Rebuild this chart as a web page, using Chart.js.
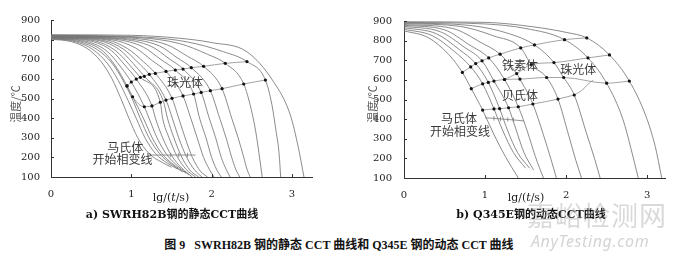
<!DOCTYPE html>
<html>
<head>
<meta charset="utf-8">
<script src="https://cdn.jsdelivr.net/npm/chart.js@4.4.1/dist/chart.umd.min.js"></script>
<style>
  body { margin: 0; background: #fff; width: 680px; height: 258px; position: relative; overflow: hidden; }
  canvas { position: absolute; top: 0; }
  #cl { left: 0; }
  #cr { left: 340px; }
  .xt { position: absolute; top: 191px; font-family: "DejaVu Serif", serif; font-size: 11px; line-height: 14px; color: #222; transform: translateX(-50%); white-space: nowrap; }
  .cap { position: absolute; top: 208px; font-family: "DejaVu Serif", "Noto Sans CJK SC", serif; font-weight: bold; font-size: 11px; line-height: 14px; color: #111; transform: translateX(-50%); white-space: nowrap; }
  #fig { position: absolute; top: 238px; left: 339px; transform: translateX(-50%); font-family: "Liberation Serif", "Noto Sans CJK SC", serif; font-weight: bold; font-size: 12px; line-height: 15px; color: #111; white-space: nowrap; }
  .wm1 { position: absolute; left: 527px; top: 199px; font-family: "Noto Sans CJK SC"; font-size: 27px; line-height: 32px; color: rgba(170,170,170,0.45); letter-spacing: 1px; }
  .wm2 { position: absolute; left: 531px; top: 231px; font-family: "Noto Sans"; font-style: italic; font-size: 16px; line-height: 20px; color: rgba(170,170,170,0.5); letter-spacing: 0.6px; }
</style>
</head>
<body>
<canvas id="cl" width="340" height="200"></canvas>
<canvas id="cr" width="340" height="200"></canvas>
<div class="xt" style="left:171px">lg/(<i>t</i>/s)</div>
<div class="xt" style="left:526px">lg/(<i>t</i>/s)</div>
<div class="cap" style="left:172px">a) SWRH82B钢的静态CCT曲线</div>
<div class="cap" style="left:531px">b) Q345E钢的动态CCT曲线</div>
<div id="fig">图 9&nbsp;&nbsp;&nbsp;SWRH82B 钢的静态 CCT 曲线和 Q345E 钢的动态 CCT 曲线</div>
<div class="wm1">嘉峪检测网</div>
<div class="wm2">AnyTesting.com</div>
<script>
const xTickValues = [0, 1, 2, 3];
const yTickValues = [100, 200, 300, 400, 500, 600, 700, 800, 900];

// a) SWRH82B static CCT: cooling curves [lg(t/s), T]
const leftMartensiteCurves = [
  [[0,802],[0.25,790],[0.45,755],[0.62,690],[0.76,600],[0.87,500],[0.97,400],[1.08,300],[1.22,220],[1.38,175],[1.5,150]],
  [[0,805],[0.3,790],[0.52,750],[0.7,680],[0.84,590],[0.96,490],[1.06,400],[1.17,300],[1.3,220],[1.45,170],[1.58,140]],
  [[0,807],[0.35,790],[0.58,748],[0.76,680],[0.9,590],[1.02,490],[1.11,400],[1.22,300],[1.35,220],[1.5,165],[1.64,125]]
];
const leftPearliteCurves = [
  [[0,808],[0.4,790],[0.65,740],[0.82,655],[0.946,564],[1.016,509],[1.15,400],[1.26,300],[1.38,220],[1.52,165],[1.68,120]],
  [[0,810],[0.45,790],[0.7,740],[0.87,660],[1.0,584],[1.162,458],[1.22,400],[1.32,300],[1.44,215],[1.58,155],[1.72,110]],
  [[0,811],[0.5,792],[0.75,745],[0.92,670],[1.062,599],[1.257,462],[1.30,400],[1.39,300],[1.5,210],[1.63,145],[1.76,100]],
  [[0,812],[0.55,793],[0.8,745],[0.97,675],[1.112,608],[1.361,481],[1.39,400],[1.47,300],[1.57,205],[1.68,140],[1.80,100]],
  [[0,813],[0.6,795],[0.85,750],[1.02,680],[1.162,613],[1.40,486],[1.45,400],[1.53,300],[1.63,200],[1.73,135],[1.84,100]],
  [[0,814],[0.65,796],[0.9,752],[1.08,685],[1.224,623],[1.432,492],[1.51,400],[1.59,300],[1.69,200],[1.79,135],[1.88,100]],
  [[0,815],[0.7,798],[0.95,755],[1.15,688],[1.299,628],[1.507,501],[1.59,400],[1.67,300],[1.76,200],[1.86,130],[1.95,100]],
  [[0,816],[0.75,800],[1.05,758],[1.26,693],[1.432,638],[1.644,513],[1.74,400],[1.82,300],[1.9,200],[1.97,140],[2.03,100]],
  [[0,817],[0.8,802],[1.15,762],[1.37,698],[1.548,645],[1.776,523],[1.85,400],[1.93,300],[2.0,200],[2.06,140],[2.12,100]],
  [[0,818],[0.85,804],[1.25,765],[1.47,703],[1.644,650],[1.87,531],[1.97,400],[2.05,300],[2.12,200],[2.18,140],[2.23,100]],
  [[0,819],[0.9,806],[1.35,768],[1.57,708],[1.747,657],[1.984,540],[2.1,400],[2.18,300],[2.25,200],[2.3,140],[2.35,100]],
  [[0,820],[1.0,808],[1.45,773],[1.7,715],[1.90,664],[2.13,550],[2.25,400],[2.33,300],[2.4,200],[2.44,140],[2.48,100]],
  [[0,821],[1.1,810],[1.6,780],[1.95,725],[2.17,679],[2.40,574],[2.49,450],[2.55,330],[2.59,220],[2.63,100]],
  [[0,822],[1.2,812],[1.7,788],[2.15,738],[2.44,688],[2.67,594],[2.75,470],[2.8,340],[2.84,220],[2.86,100]],
  [[0,825],[1.0,822],[1.6,807],[2.0,785],[2.44,738],[2.77,586],[2.98,416],[3.08,250],[3.15,100]]
];
const leftPearliteStart = [[0.946,564],[1.0,584],[1.062,599],[1.112,608],[1.162,613],[1.224,623],[1.299,628],[1.432,638],[1.548,645],[1.644,650],[1.747,657],[1.90,664],[2.17,679],[2.44,688]];
const leftPearliteFinish = [[0.946,564],[1.016,509],[1.162,458],[1.257,462],[1.361,481],[1.432,492],[1.507,501],[1.644,513],[1.776,523],[1.87,531],[1.984,540],[2.13,550],[2.40,574],[2.67,594]];
const leftMsLine = [[1.24,212],[1.49,212],[1.59,212],[1.70,212],[1.80,212]];

// b) Q345E dynamic CCT
const rightCurves = [
  [[0,850],[0.3,815],[0.55,730],[0.72,638],[0.83,555],[0.97,446],[1.1,330],[1.25,210],[1.41,100]],
  [[0,858],[0.35,825],[0.62,745],[0.823,666],[0.97,580],[1.11,452],[1.22,340],[1.35,230],[1.5,150]],
  [[0,866],[0.4,835],[0.68,755],[0.885,683],[1.04,587],[1.18,453],[1.28,340],[1.4,230],[1.55,150]],
  [[0,873],[0.45,845],[0.75,765],[0.963,697],[1.11,594],[1.29,458],[1.38,350],[1.48,230],[1.6,140]],
  [[0,878],[0.5,855],[0.8,780],[1.045,712],[1.24,602],[1.41,463],[1.52,340],[1.62,210],[1.72,100]],
  [[0,882],[0.6,862],[0.95,790],[1.185,731],[1.39,632],[1.43,604],[1.59,477],[1.72,320],[1.81,200],[1.88,100]],
  [[0,887],[0.7,872],[1.1,825],[1.44,763],[1.57,678],[1.76,612],[1.90,502],[2.03,320],[2.12,190],[2.19,100]],
  [[0,890],[0.8,878],[1.3,835],[1.61,778],[1.85,688],[1.97,612],[2.10,523],[2.25,330],[2.35,200],[2.42,100]],
  [[0,893],[1.0,885],[1.5,862],[1.98,805],[2.27,712],[2.5,583],[2.7,400],[2.8,250],[2.89,100]],
  [[0,896],[1.0,893],[1.6,870],[2.0,842],[2.255,814],[2.535,727],[2.78,594],[2.98,420],[3.1,260],[3.18,100]]
];
const rightFerriteStart = [[0.72,638],[0.823,666],[0.885,683],[0.963,697],[1.045,712],[1.185,731],[1.44,763],[1.61,778],[1.98,805],[2.255,814]];
const rightPearliteStart = [[1.24,602],[1.39,632],[1.57,678],[1.85,688],[2.27,712],[2.535,727]];
const rightBainiteStart = [[0.83,555],[0.97,580],[1.04,587],[1.11,594],[1.24,602],[1.43,604],[1.76,612],[1.97,612],[2.5,583],[2.78,594]];
const rightBainiteFinish = [[0.97,446],[1.11,452],[1.18,453],[1.29,458],[1.41,463],[1.59,477],[1.90,502],[2.10,523]];
const rightPearliteLeader = [[2.10,523],[2.2,548],[2.27,578],[2.33,598]];
const rightMsLine = [[1.0,407],[1.11,404],[1.19,401],[1.28,398],[1.35,396],[1.48,391]];

const tickFont = { family: "'DejaVu Serif', serif", size: 10 };

function toXY(pts) { return pts.map(p => ({x: p[0], y: p[1]})); }

function curveSets(list) {
  return list.map(pts => ({
    data: toXY(pts), showLine: true, borderColor: '#767676', borderWidth: 0.85,
    pointRadius: 0, cubicInterpolationMode: 'monotone', order: 2
  }));
}
function dottedLine(pts) {
  return {
    data: toXY(pts), showLine: true, borderColor: '#8c8c8c', borderWidth: 0.8,
    pointRadius: 1.6, pointBackgroundColor: '#111', pointBorderWidth: 0,
    cubicInterpolationMode: 'monotone', order: 0
  };
}
function plainLine(pts) {
  return { data: toXY(pts), showLine: true, borderColor: '#8c8c8c', borderWidth: 0.8,
    pointRadius: 0, cubicInterpolationMode: 'monotone', order: 1 };
}
function msLine(pts) {
  return {
    data: toXY(pts), showLine: true, borderColor: '#777', borderWidth: 0.8, tension: 0,
    pointStyle: 'line', rotation: 90, pointBorderColor: '#777', pointBorderWidth: 0.8,
    pointRadius: pts.map((p, i) => (i === 0 || i === pts.length - 1) ? 0 : 2.2), order: 1
  };
}

const inwardTicks = {
  id: 'inwardTicks',
  afterDraw(chart) {
    const {ctx, scales: {x, y}} = chart;
    ctx.save();
    ctx.strokeStyle = '#333';
    ctx.lineWidth = 1;
    ctx.beginPath();
    x.ticks.forEach(t => {
      const px = Math.round(x.getPixelForValue(t.value)) + 0.5;
      ctx.moveTo(px, y.bottom); ctx.lineTo(px, y.bottom - 3);
    });
    y.ticks.forEach(t => {
      const py = Math.round(y.getPixelForValue(t.value)) + 0.5;
      ctx.moveTo(x.left, py); ctx.lineTo(x.left + 3, py);
    });
    ctx.stroke();
    ctx.restore();
  }
};

const phaseLabels = {
  id: 'phaseLabels',
  afterDraw(chart, args, opts) {
    const {ctx, scales: {x, y}} = chart;
    ctx.save();
    ctx.fillStyle = '#3a3a3a';
    ctx.font = "12px 'Noto Sans CJK SC'";
    ctx.textAlign = 'center';
    ctx.textBaseline = 'middle';
    (opts.items || []).forEach(it => {
      ctx.fillText(it.text, x.getPixelForValue(it.x), y.getPixelForValue(it.y));
    });
    ctx.font = "11px 'Noto Sans CJK SC'";
    ctx.fillStyle = '#555';
    ctx.translate(opts.titleX, opts.titleY);
    ctx.rotate(-Math.PI / 2);
    ctx.fillText('温度/℃', 0, 0);
    ctx.restore();
  }
};

function makeChart(id, datasets, cfg) {
  return new Chart(document.getElementById(id), {
    type: 'scatter',
    data: { datasets: datasets },
    options: {
      responsive: false,
      animation: false,
      events: [],
      layout: { padding: { top: cfg.top, right: cfg.right, left: 0, bottom: 0 } },
      scales: {
        x: {
          type: 'linear', min: 0, max: cfg.xMax,
          grid: { display: false },
          border: { display: true, color: '#333', width: 1 },
          afterBuildTicks: s => { s.ticks = xTickValues.map(v => ({ value: v })); },
          afterFit: s => { s.height = cfg.xHeight; },
          ticks: { font: tickFont, color: '#222', padding: 3, maxRotation: 0, autoSkip: false }
        },
        y: {
          type: 'linear', min: 100, max: 900,
          grid: { display: false },
          border: { display: true, color: '#333', width: 1 },
          afterBuildTicks: s => { s.ticks = yTickValues.map(v => ({ value: v })); },
          afterFit: s => { s.width = cfg.yWidth; },
          ticks: { font: tickFont, color: '#222', padding: cfg.yPad, autoSkip: false }
        }
      },
      plugins: {
        legend: { display: false },
        tooltip: { enabled: false },
        phaseLabels: { items: cfg.labels, titleX: cfg.titleX, titleY: cfg.titleY }
      }
    },
    plugins: [inwardTicks, phaseLabels]
  });
}

makeChart('cl', [
  dottedLine(leftPearliteStart),
  dottedLine(leftPearliteFinish),
  msLine(leftMsLine),
  ...curveSets(leftMartensiteCurves),
  ...curveSets(leftPearliteCurves)
], {
  top: 20, right: 28, xMax: 3.25, xHeight: 23, yWidth: 51, yPad: 3, titleX: 16, titleY: 104,
  labels: [
    { text: '珠光体', x: 1.67, y: 584 },
    { text: '马氏体', x: 0.925, y: 253 },
    { text: '开始相变线', x: 0.89, y: 187 }
  ]
});

makeChart('cr', [
  dottedLine(rightFerriteStart),
  dottedLine(rightPearliteStart),
  dottedLine(rightBainiteStart),
  dottedLine(rightBainiteFinish),
  plainLine(rightPearliteLeader),
  msLine(rightMsLine),
  ...curveSets(rightCurves)
], {
  top: 21, right: 15, xMax: 3.22, xHeight: 22, yWidth: 64, yPad: 4, titleX: 33, titleY: 104,
  labels: [
    { text: '铁素体', x: 1.43, y: 675 },
    { text: '珠光体', x: 2.15, y: 654 },
    { text: '贝氏体', x: 1.43, y: 522 },
    { text: '马氏体', x: 0.68, y: 405 },
    { text: '开始相变线', x: 0.69, y: 335 }
  ]
});
</script>
</body>
</html>
